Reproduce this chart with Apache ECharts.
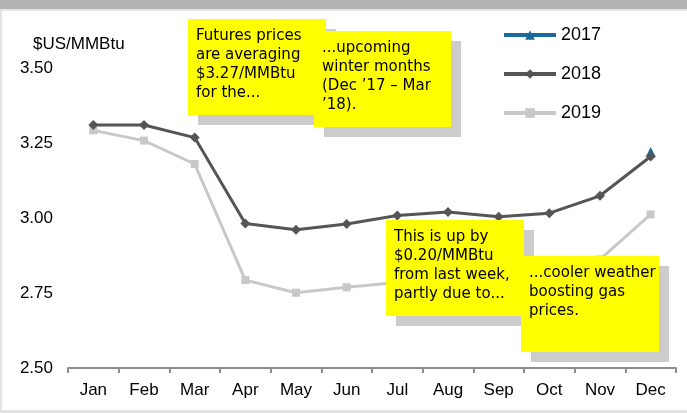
<!DOCTYPE html>
<html>
<head>
<meta charset="utf-8">
<script src="https://cdn.jsdelivr.net/npm/echarts@6/dist/echarts.min.js"></script>
<style>
  html, body { margin: 0; padding: 0; background: #fff; }
  #chart { width: 687px; height: 413px; }
</style>
</head>
<body>
<div id="chart"></div>
<script>
// months on the x axis
const months = ['Jan', 'Feb', 'Mar', 'Apr', 'May', 'Jun', 'Jul', 'Aug', 'Sep', 'Oct', 'Nov', 'Dec'];
// futures prices, $US/MMBtu
const prices2017 = [null, null, null, null, null, null, null, null, null, null, null, 3.22];
const prices2018 = [3.31, 3.31, 3.268, 2.982, 2.961, 2.98, 3.008, 3.02, 3.004, 3.016, 3.074, 3.205];
const prices2019 = [3.292, 3.258, 3.18, 2.793, 2.751, 2.769, 2.785, 2.795, 2.80, 2.815, 2.862, 3.012];
const yTicks = [2.5, 2.75, 3.0, 3.25, 3.5];

// sticky notes
const notes = [
  { x: 188, y: 19, w: 138, h: 96, lines: ['Futures prices', 'are averaging', '$3.27/MMBtu', 'for the...'] },
  { x: 314, y: 31, w: 137, h: 96, lines: ['...upcoming', 'winter months', '(Dec \u201917 \u2013 Mar', '\u201918).'] },
  { x: 386, y: 220, w: 138, h: 96, lines: ['This is up by', '$0.20/MMBtu', 'from last week,', 'partly due to...'] },
  { x: 521, y: 256, w: 138, h: 96, lines: ['...cooler weather', 'boosting gas', 'prices.'] }
];

const sans = 'Liberation Sans';
const noteFont = '"Comic Sans MS", "DejaVu Sans", sans-serif';
let graphics = [
  { type: 'rect', z: -1, shape: { x: 0, y: 0, width: 687, height: 9 }, style: { fill: '#b3b3b3' } },
  { type: 'rect', z: -1, shape: { x: 0, y: 9, width: 687, height: 2 }, style: { fill: '#e3e3e3' } },
  { type: 'rect', z: -1, shape: { x: 0, y: 9, width: 2, height: 404 }, style: { fill: '#e3e3e3' } },
  { type: 'rect', z: -1, shape: { x: 0, y: 410, width: 687, height: 3 }, style: { fill: '#e3e3e3' } }
];
notes.forEach(function (n, i) {
  let z = 100 + i * 3;
  graphics.push({ type: 'rect', z: z, shape: { x: n.x + 10, y: n.y + 10, width: n.w, height: n.h }, style: { fill: '#cccccc' } });
  graphics.push({ type: 'rect', z: z + 1, shape: { x: n.x, y: n.y, width: n.w, height: n.h }, style: { fill: '#ffff00' } });
  graphics.push({
    type: 'text', z: z + 2, x: n.x + 8, y: n.y + 8,
    style: { text: n.lines.join('\n'), font: '15px ' + noteFont, lineHeight: 19, fill: '#000', verticalAlign: 'top' }
  });
});

const chart = echarts.init(document.getElementById('chart'));
chart.setOption({
  animation: false,
  backgroundColor: '#fff',
  title: {
    text: '$US/MMBtu',
    left: 28,
    top: 31,
    textStyle: { fontFamily: sans, fontSize: 17, fontWeight: 'normal', color: '#000' }
  },
  legend: {
    orient: 'vertical',
    left: 497,
    top: 21,
    itemWidth: 52,
    itemHeight: 12,
    itemGap: 21,
    data: ['2017', '2018', '2019'],
    lineStyle: { width: 4 },
    textStyle: { fontFamily: sans, fontSize: 18, color: '#000' }
  },
  grid: { left: 68, right: 11, top: 68, bottom: 45 },
  xAxis: {
    type: 'category',
    data: months,
    boundaryGap: true,
    axisLine: { lineStyle: { color: '#8c8c8c', width: 2 } },
    axisTick: { show: true, length: 5, lineStyle: { color: '#8c8c8c', width: 2 } },
    axisLabel: { margin: 14, fontFamily: sans, fontSize: 17, color: '#000' }
  },
  yAxis: {
    type: 'value',
    min: yTicks[0],
    max: yTicks[yTicks.length - 1],
    interval: 0.25,
    splitLine: { show: false },
    axisLine: { show: false },
    axisTick: { show: false },
    axisLabel: {
      margin: 15,
      fontFamily: sans,
      fontSize: 17,
      color: '#000',
      formatter: function (v) { return v.toFixed(2); }
    }
  },
  series: [
    {
      name: '2019',
      type: 'line',
      data: prices2019,
      symbol: 'rect',
      symbolSize: 8,
      color: '#c8c8c8',
      lineStyle: { width: 3, color: '#c8c8c8' },
      itemStyle: { color: '#c8c8c8' }
    },
    {
      name: '2017',
      type: 'line',
      data: prices2017,
      symbol: 'triangle',
      symbolSize: 10,
      showAllSymbol: true,
      color: '#1b6a9c',
      lineStyle: { width: 3, color: '#1b6a9c' },
      itemStyle: { color: '#1b6a9c' }
    },
    {
      name: '2018',
      type: 'line',
      data: prices2018,
      symbol: 'diamond',
      symbolSize: 10,
      color: '#555555',
      lineStyle: { width: 3, color: '#555555' },
      itemStyle: { color: '#555555' }
    }
  ],
  graphic: graphics
});
</script>
</body>
</html>
